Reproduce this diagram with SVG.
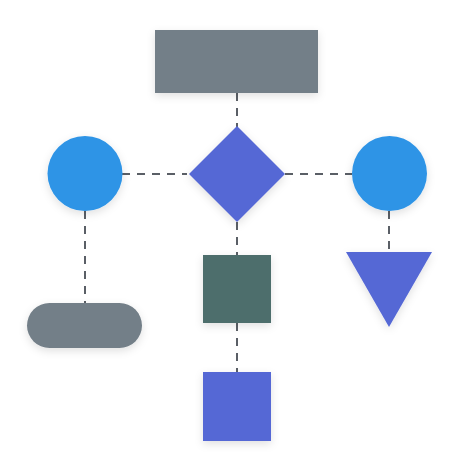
<svg xmlns="http://www.w3.org/2000/svg" width="474" height="474" viewBox="0 0 474 474">
<defs>
<filter id="sh" x="-20%" y="-20%" width="140%" height="150%">
<feDropShadow dx="0" dy="3" stdDeviation="4" flood-color="#000" flood-opacity="0.12"/>
</filter>
<style>
.c{stroke:#5a5f66;stroke-width:2;stroke-dasharray:8 7;fill:none}
.n{filter:url(#sh)}
.gray{fill:#737f88}
.blue{fill:#2e94e6}
.indigo{fill:#5467d5}
.teal{fill:#4e6e6c}
</style>
</defs>
<rect width="474" height="474" fill="#ffffff"/>
<g id="connectors">
<line class="c" x1="237" y1="93" x2="237" y2="127"/>
<line class="c" x1="122" y1="174" x2="187" y2="174"/>
<line class="c" x1="285" y1="174" x2="352" y2="174"/>
<line class="c" x1="85" y1="211" x2="85" y2="303"/>
<line class="c" x1="389" y1="211" x2="389" y2="252"/>
<line class="c" x1="237" y1="222" x2="237" y2="255"/>
<line class="c" x1="237" y1="323" x2="237" y2="372"/>
</g>
<g id="top-rect" class="n"><rect class="gray" x="155" y="30" width="163" height="63"/></g>
<g id="left-circle" class="n"><circle class="blue" cx="85" cy="173.5" r="37.5"/></g>
<g id="diamond" class="n"><polygon class="indigo" points="237,126 285,174 237,222 189,174"/></g>
<g id="right-circle" class="n"><circle class="blue" cx="389.5" cy="173.5" r="37.5"/></g>
<g id="triangle" class="n"><polygon class="indigo" points="346,252 432,252 389,327"/></g>
<g id="pill" class="n"><rect class="gray" x="27" y="303" width="115" height="45" rx="22.5"/></g>
<g id="green-square" class="n"><rect class="teal" x="203" y="255" width="68" height="68"/></g>
<g id="blue-square" class="n"><rect class="indigo" x="203" y="372" width="68" height="69"/></g>
</svg>
